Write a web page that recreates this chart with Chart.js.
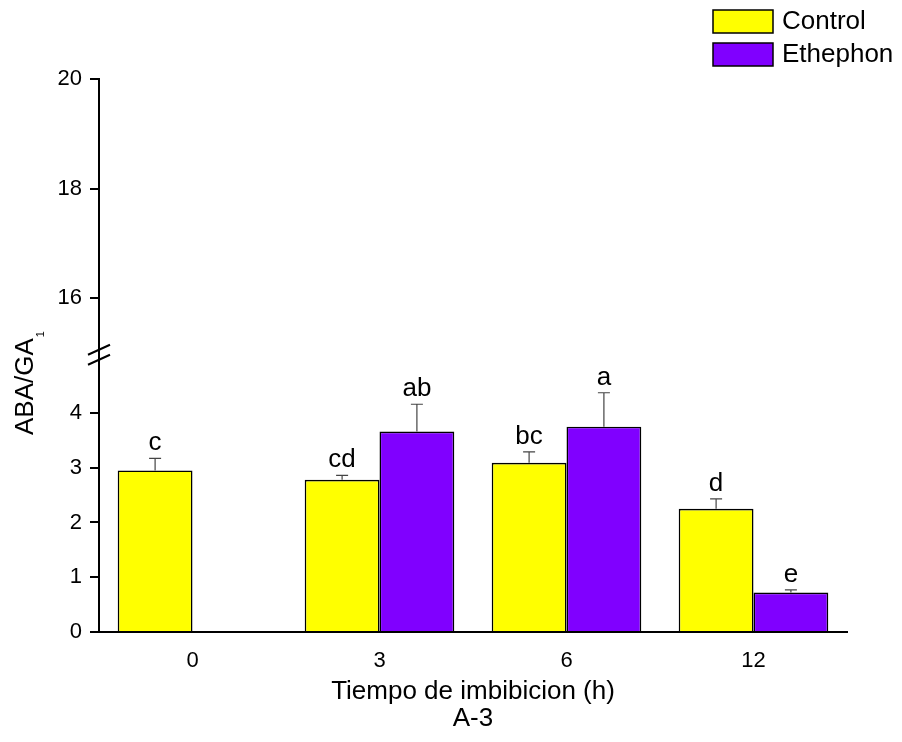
<!DOCTYPE html>
<html>
<head>
<meta charset="utf-8">
<script src="https://cdn.jsdelivr.net/npm/chart.js@4/dist/chart.umd.min.js"></script>
<style>
  html, body { margin: 0; padding: 0; background: #fff; }
  #wrap { width: 902px; height: 742px; position: relative; }
</style>
</head>
<body>
<div id="wrap"><canvas id="c" width="902" height="742"></canvas></div>
<script>
const categories = ['0', '3', '6', '12'];
const controlValues = [2.95, 2.78, 3.09, 2.25];
const controlErrors = [0.22, 0.08, 0.20, 0.18];
const controlLetters = ['c', 'cd', 'bc', 'd'];
const ethephonValues = [null, 3.66, 3.75, 0.72];
const ethephonErrors = [null, 0.50, 0.62, 0.05];
const ethephonLetters = [null, 'ab', 'a', 'e'];
const yLowTicks = [0, 1, 2, 3, 4];
const yHighTicks = [16, 18, 20];
const seriesNames = ['Control', 'Ethephon'];
const xTitle = ['Tiempo de imbibicion (h)', 'A-3'];
const yTitleMain = 'ABA/GA';
const yTitleSub = '1';

const FONT = "'Liberation Sans', Arial, sans-serif";

const errors = [controlErrors, ethephonErrors];
const letters = [controlLetters, ethephonLetters];

const extrasPlugin = {
  id: 'extras',
  afterDatasetsDraw(chart) {
    const ctx = chart.ctx;
    const yScale = chart.scales.y;
    ctx.save();
    chart.data.datasets.forEach((ds, di) => {
      const meta = chart.getDatasetMeta(di);
      meta.data.forEach((bar, i) => {
        const v = ds.data[i];
        if (v === null || v === undefined) return;
        const e = errors[di][i];
        const yTop = yScale.getPixelForValue(v + e);
        const x = bar.x;
        ctx.strokeStyle = '#444';
        ctx.lineWidth = 1.2;
        ctx.beginPath();
        ctx.moveTo(x, bar.y);
        ctx.lineTo(x, yTop);
        ctx.moveTo(x - 6, yTop);
        ctx.lineTo(x + 6, yTop);
        ctx.stroke();
        const lab = letters[di][i];
        if (lab) {
          ctx.fillStyle = '#000';
          ctx.font = '26px ' + FONT;
          ctx.textAlign = 'center';
          ctx.textBaseline = 'alphabetic';
          ctx.fillText(lab, x, yTop - 8);
        }
      });
    });
    ctx.restore();
  },
  afterDraw(chart) {
    const ctx = chart.ctx;
    const yLow = chart.scales.y;
    const ax = yLow.right;
    const by = yLow.top;
    ctx.save();
    // axis break marks
    ctx.strokeStyle = '#000';
    ctx.lineWidth = 2;
    ctx.beginPath();
    ctx.moveTo(ax - 11, by + 2);
    ctx.lineTo(ax + 11, by - 8);
    ctx.moveTo(ax - 11, by + 12);
    ctx.lineTo(ax + 11, by + 2);
    ctx.stroke();
    // y title
    ctx.fillStyle = '#000';
    ctx.translate(33, 435);
    ctx.rotate(-Math.PI / 2);
    ctx.font = '26px ' + FONT;
    ctx.textAlign = 'left';
    ctx.textBaseline = 'alphabetic';
    ctx.fillText(yTitleMain, 0, 0);
    const w = ctx.measureText(yTitleMain).width;
    ctx.font = '11px ' + FONT;
    ctx.fillText(yTitleSub, w + 1, 11);
    ctx.restore();
    // legend
    ctx.save();
    chart.data.datasets.forEach((ds, di) => {
      const bx = 713, byy = 10 + di * 33;
      ctx.fillStyle = ds.backgroundColor;
      ctx.fillRect(bx, byy, 60, 23);
      ctx.strokeStyle = '#000';
      ctx.lineWidth = 1.5;
      ctx.strokeRect(bx, byy, 60, 23);
      ctx.fillStyle = '#000';
      ctx.font = '26px ' + FONT;
      ctx.textAlign = 'left';
      ctx.textBaseline = 'middle';
      ctx.fillText(ds.label, 782, byy + 12);
    });
    ctx.restore();
  }
};

new Chart(document.getElementById('c'), {
  type: 'bar',
  data: {
    labels: categories,
    datasets: [
      { label: seriesNames[0], data: controlValues, backgroundColor: '#FFFF00', borderColor: '#000', borderWidth: 1.6, yAxisID: 'y', barPercentage: 1, categoryPercentage: 0.8 },
      { label: seriesNames[1], data: ethephonValues, backgroundColor: '#8000FF', borderColor: '#000', borderWidth: 1.6, yAxisID: 'y', barPercentage: 1, categoryPercentage: 0.8 }
    ]
  },
  options: {
    responsive: false,
    animation: false,
    layout: { padding: { top: 79, right: 55, bottom: 0, left: 0 } },
    plugins: { legend: { display: false }, tooltip: { enabled: false } },
    scales: {
      x: {
        grid: { display: false },
        border: { display: true, color: '#000', width: 2 },
        ticks: { color: '#000', font: { family: FONT, size: 22 }, padding: 8 },
        title: { display: true, text: xTitle, color: '#000', font: { family: FONT, size: 26, lineHeight: 1.06 }, padding: { top: 0, bottom: 9 } },
        afterFit: s => { s.height = 110; }
      },
      y: {
        type: 'linear', position: 'left', stack: 'ys', stackWeight: 5.1,
        min: 0, max: 5.1,
        afterBuildTicks: s => { s.ticks = yLowTicks.map(v => ({ value: v })); },
        grid: { display: true, drawOnChartArea: false, drawTicks: true, tickLength: 9, color: '#000', lineWidth: 2 },
        border: { display: true, color: '#000', width: 2 },
        ticks: { color: '#000', font: { family: FONT, size: 22 }, padding: 8 },
        afterFit: s => { s.width = 99; }
      },
      yTop: {
        type: 'linear', position: 'left', stack: 'ys', stackWeight: 5,
        min: 15, max: 20,
        afterBuildTicks: s => { s.ticks = yHighTicks.map(v => ({ value: v })); },
        grid: { display: true, drawOnChartArea: false, drawTicks: true, tickLength: 9, color: '#000', lineWidth: 2 },
        border: { display: true, color: '#000', width: 2 },
        ticks: { color: '#000', font: { family: FONT, size: 22 }, padding: 8 },
        afterFit: s => { s.width = 99; }
      }
    }
  },
  plugins: [extrasPlugin]
});
</script>
</body>
</html>
